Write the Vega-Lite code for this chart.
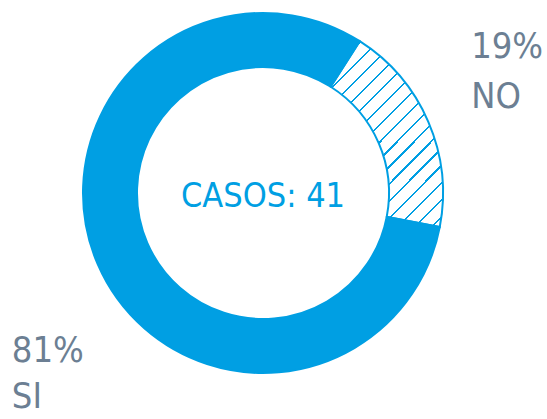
{
  "$schema": "https://vega.github.io/schema/vega-lite/v6.json",
  "width": 526,
  "height": 386,
  "autosize": "none",
  "padding": {"left": 0, "top": 0, "right": 21, "bottom": 33},
  "background": "white",
  "view": {"stroke": null},
  "config": {"text": {"font": "DejaVu Sans Condensed, Roboto, sans-serif"}},
  "data": {"values": [
    {"cat": "NO", "value": 19, "ord": 1, "label": ["19%", "NO"]},
    {"cat": "SI", "value": 81, "ord": 2, "label": ["81%", "SI"]}
  ]},
  "layer": [
    {
      "mark": {"type": "arc", "outerRadius": 180, "innerRadius": 126, "stroke": "#009FE3", "strokeWidth": 2},
      "encoding": {
        "theta": {"field": "value", "type": "quantitative", "stack": true, "scale": {"range": [0.5672, 6.8504]}},
        "order": {"field": "ord", "type": "quantitative"},
        "fill": {
          "condition": {"test": "datum.cat === 'SI'", "value": "#009FE3"},
          "value": {
            "gradient": "linear", "x1": 0, "y1": 0, "x2": 0.73, "y2": 1.2,
            "stops": [
              {"offset": 0, "color": "#ffffff"},
              {"offset": 0.0963, "color": "#ffffff"}, {"offset": 0.0963, "color": "#009FE3"}, {"offset": 0.1037, "color": "#009FE3"}, {"offset": 0.1037, "color": "#ffffff"},
              {"offset": 0.1523, "color": "#ffffff"}, {"offset": 0.1523, "color": "#009FE3"}, {"offset": 0.1597, "color": "#009FE3"}, {"offset": 0.1597, "color": "#ffffff"},
              {"offset": 0.2083, "color": "#ffffff"}, {"offset": 0.2083, "color": "#009FE3"}, {"offset": 0.2157, "color": "#009FE3"}, {"offset": 0.2157, "color": "#ffffff"},
              {"offset": 0.2643, "color": "#ffffff"}, {"offset": 0.2643, "color": "#009FE3"}, {"offset": 0.2717, "color": "#009FE3"}, {"offset": 0.2717, "color": "#ffffff"},
              {"offset": 0.3203, "color": "#ffffff"}, {"offset": 0.3203, "color": "#009FE3"}, {"offset": 0.3277, "color": "#009FE3"}, {"offset": 0.3277, "color": "#ffffff"},
              {"offset": 0.3763, "color": "#ffffff"}, {"offset": 0.3763, "color": "#009FE3"}, {"offset": 0.3837, "color": "#009FE3"}, {"offset": 0.3837, "color": "#ffffff"},
              {"offset": 0.4323, "color": "#ffffff"}, {"offset": 0.4323, "color": "#009FE3"}, {"offset": 0.4397, "color": "#009FE3"}, {"offset": 0.4397, "color": "#ffffff"},
              {"offset": 0.4883, "color": "#ffffff"}, {"offset": 0.4883, "color": "#009FE3"}, {"offset": 0.4957, "color": "#009FE3"}, {"offset": 0.4957, "color": "#ffffff"},
              {"offset": 0.5443, "color": "#ffffff"}, {"offset": 0.5443, "color": "#009FE3"}, {"offset": 0.5517, "color": "#009FE3"}, {"offset": 0.5517, "color": "#ffffff"},
              {"offset": 0.6003, "color": "#ffffff"}, {"offset": 0.6003, "color": "#009FE3"}, {"offset": 0.6077, "color": "#009FE3"}, {"offset": 0.6077, "color": "#ffffff"},
              {"offset": 0.6563, "color": "#ffffff"}, {"offset": 0.6563, "color": "#009FE3"}, {"offset": 0.6637, "color": "#009FE3"}, {"offset": 0.6637, "color": "#ffffff"},
              {"offset": 0.7123, "color": "#ffffff"}, {"offset": 0.7123, "color": "#009FE3"}, {"offset": 0.7197, "color": "#009FE3"}, {"offset": 0.7197, "color": "#ffffff"},
              {"offset": 0.7683, "color": "#ffffff"}, {"offset": 0.7683, "color": "#009FE3"}, {"offset": 0.7757, "color": "#009FE3"}, {"offset": 0.7757, "color": "#ffffff"},
              {"offset": 0.8243, "color": "#ffffff"}, {"offset": 0.8243, "color": "#009FE3"}, {"offset": 0.8317, "color": "#009FE3"}, {"offset": 0.8317, "color": "#ffffff"},
              {"offset": 0.8803, "color": "#ffffff"}, {"offset": 0.8803, "color": "#009FE3"}, {"offset": 0.8877, "color": "#009FE3"}, {"offset": 0.8877, "color": "#ffffff"},
              {"offset": 0.9363, "color": "#ffffff"}, {"offset": 0.9363, "color": "#009FE3"}, {"offset": 0.9437, "color": "#009FE3"}, {"offset": 0.9437, "color": "#ffffff"},
              {"offset": 1, "color": "#ffffff"}
            ]
          }
        }
      }
    },
    {
      "mark": {"type": "text", "align": "left", "baseline": "alphabetic", "fontSize": 36, "lineHeight": 50, "color": "#6C7F93", "dx": -49, "dy": -24},
      "encoding": {
        "theta": {"field": "value", "type": "quantitative", "stack": true, "scale": {"range": [0.5672, 6.8504]}},
        "order": {"field": "ord", "type": "quantitative"},
        "radius": {"value": 280},
        "text": {"condition": {"test": "datum.cat === 'NO'", "field": "label"}, "value": ""}
      }
    },
    {
      "mark": {"type": "text", "align": "left", "baseline": "alphabetic", "fontSize": 36, "lineHeight": 46, "color": "#6C7F93", "dx": 6, "dy": 58},
      "encoding": {
        "theta": {"field": "value", "type": "quantitative", "stack": true, "scale": {"range": [0.5672, 6.8504]}},
        "order": {"field": "ord", "type": "quantitative"},
        "radius": {"value": 280},
        "text": {"condition": {"test": "datum.cat === 'SI'", "field": "label"}, "value": ""}
      }
    },
    {
      "data": {"values": [{"label": "CASOS: 41"}]},
      "mark": {"type": "text", "align": "center", "baseline": "alphabetic", "fontSize": 34, "color": "#009FE3", "dy": 14},
      "encoding": {
        "text": {"field": "label"}
      }
    }
  ]
}
